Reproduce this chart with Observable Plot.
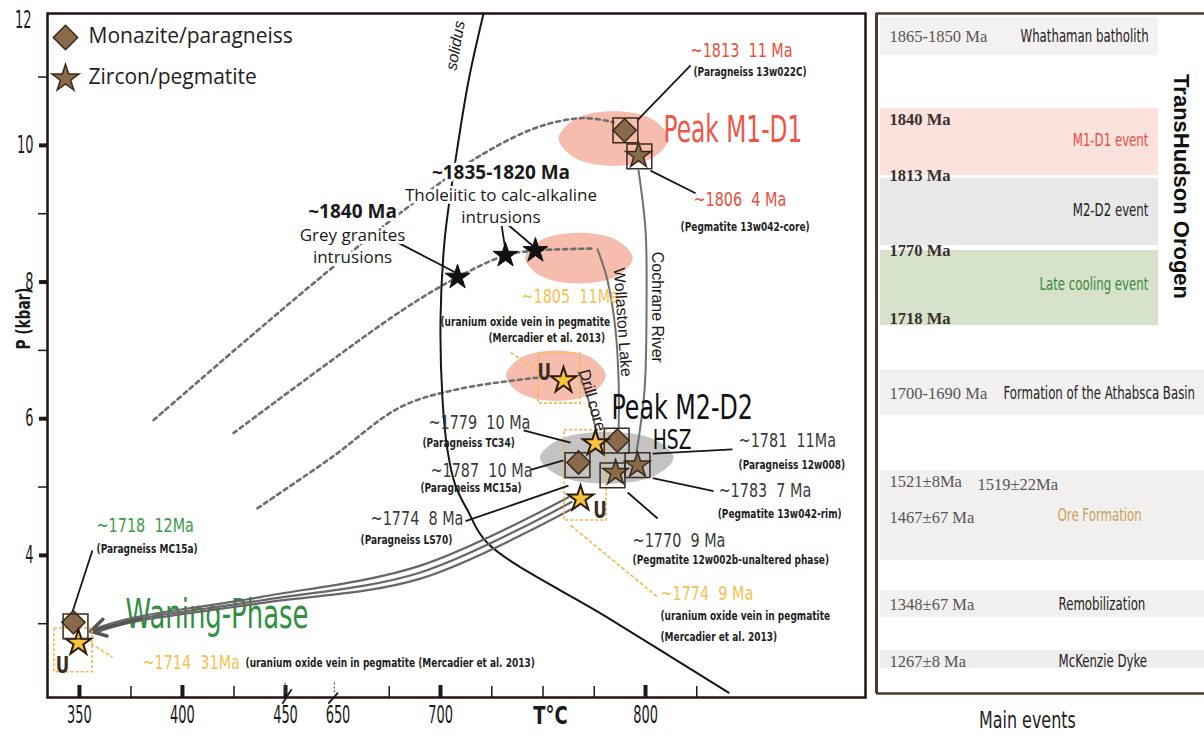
<!DOCTYPE html>
<html><head><meta charset="utf-8">
<script src="https://cdn.jsdelivr.net/npm/d3@7"></script>
<script src="https://cdn.jsdelivr.net/npm/@observablehq/plot@0.6"></script>
<style>
body{margin:0;background:#fff;}
#wrap{position:relative;width:1204px;height:738px;overflow:hidden;background:#fff;}
#wrap svg{position:absolute;top:0;}
</style></head><body><div id="wrap"></div>
<script>
const NARROW = "'DejaVu Sans Condensed','Liberation Sans Narrow',sans-serif";
const SANS = "'Open Sans','Noto Sans',sans-serif";
const ARIAL = "'Liberation Sans',Arial,sans-serif";
const SERIF = "'Liberation Serif','DejaVu Serif',serif";

// ---------------- data (T in °C, P in kbar) ----------------
const tickT = [350, 400, 450, 700, 800];
const labelT = [350, 400, 450, 650, 700, 800];
const minorT = [375, 425, 675, 725, 750, 775, 825];
const majorP = [4, 6, 8, 10];
const minorP = [3, 5, 7, 9, 11];

const solidus = [[721,11.93],[713.7,10.95],[707.3,9.78],[702,8.61],[700,7.44],[701,6.27],[703.4,5.54],[707.3,5.02],[713.2,4.66],[722.9,4.18],[781.5,3.09],[840.5,1.99]];
const pathM1 = [[386,5.98],[426.7,7.04],[593.7,8.10],[683.4,9.08],[721,9.88],[748.8,10.28],[769.8,10.40],[784.4,10.34]];
const pathIntrusions = [[424.8,5.79],[680.5,7.57],[708.3,8.07],[731.7,8.39],[746.3,8.46],[774.6,8.49]];
const pathU = [[436.4,4.69],[624.7,5.43],[680.5,6.17],[709.8,6.44],[747.3,6.60]];
const pathWollaston = [[776.6,8.48],[781.5,8.02],[785.4,7.29],[786.9,6.52],[786.9,5.86]];
const pathCochrane = [[796.6,9.63],[800,8.76],[800.5,7.73],[799.5,6.41],[795.6,5.51]];
const pathDrill = [[767.3,6.68],[772.2,6.27],[776.1,5.80]];
const waning1 = [[762.4,4.85],[690.2,3.85],[437.9,3.39],[374.8,3.08],[357.8,2.93]];
const waning2 = [[763.9,4.78],[690.2,3.75],[437.9,3.34],[374.8,3.05],[357.8,2.90]];
const waning3 = [[765.3,4.70],[690.2,3.66],[437.9,3.30],[374.8,3.02],[357.8,2.87]];
const waningHead = [[379.6,3.07,355.4,2.89]];

const monazite = [[789.8,10.22],[786.3,5.68],[767.3,5.36],[347.1,3.02]];
const zircon = [[796.6,9.85],[796.1,5.32],[785.4,5.21]];
const uraninite = [[760,6.56],[775.6,5.64],[768.3,4.83],[349.5,2.72]];
const intrusions = [[708.3,8.07],[731.7,8.39],[746.3,8.46]];
const boxes = [[790.2,10.22],[797,9.84],[785.9,5.68],[766.8,5.32],[796.1,5.32],[783.9,5.17],[348.1,2.96]];
const uBoxes = [[747.8,768.3,6.22,6.95],[760.5,781.0,4.51,5.83],[337.9,356.3,2.29,2.93]];

// zones: name, centre T, centre P, half-width T, half-height P
const zones = [
  ["M1-D1", 784.4, 10.10, 26.8, 0.40],
  ["intrusion", 767.5, 8.35, 26.2, 0.37],
  ["U", 756.3, 6.63, 24.3, 0.37],
  ["HSZ", 781.1, 5.43, 32.6, 0.38]
];

const leaders = [[822,11.17,796.1,10.37],[824.4,9.30,802.4,9.63],[679,8.58,707.3,8.14],[729.3,8.93,731.7,8.46],[729.3,8.93,745.4,8.52],
  [740.5,5.83,763.4,5.65],[743.9,5.25,760,5.39],[712.2,4.50,762.4,5.02],[842.4,5.55,803.5,5.49],[833.2,4.94,803.5,5.13],
  [805.9,4.54,791.3,4.92],[356.3,4.07,346.6,3.17]];
const uLeaders = [[734.1,6.97,748.8,6.68],[763.4,4.44,805.9,3.39],[355.4,2.71,366.1,2.51]];

const labels = [
  ["~1813  11 Ma", 822, 11.39, "ageRed"],
  ["(Paragneiss 13w022C)", 823.4, 11.07, "sample"],
  ["Peak M1-D1", 808.8, 10.22, "peakRed"],
  ["~1806  4 Ma", 823.4, 9.20, "ageRed"],
  ["(Pegmatite 13w042-core)", 817.1, 8.81, "sample"],
  ["~1805  11Ma", 739.5, 7.79, "ageOrange"],
  ["(uranium oxide vein in pegmatite", 700, 7.41, "sample"],
  ["(Mercadier et al. 2013)", 723.4, 7.18, "sample"],
  ["Peak M2-D2", 783.4, 6.15, "peakBlack"],
  ["HSZ", 803.5, 5.68, "hsz"],
  ["~1779  10 Ma", 694.1, 5.95, "ageGrey"],
  ["(Paragneiss TC34)", 691.2, 5.64, "sample"],
  ["~1787  10 Ma", 695.1, 5.24, "ageGrey"],
  ["(Paragneiss MC15a)", 690.2, 4.98, "sample"],
  ["~1774  8 Ma", 665.9, 4.54, "ageGrey"],
  ["(Paragneiss LS70)", 661, 4.22, "sample"],
  ["~1781  11Ma", 845.4, 5.68, "ageGrey"],
  ["(Paragneiss 12w008)", 845.4, 5.32, "sample"],
  ["~1783  7 Ma", 835.6, 4.95, "ageGrey"],
  ["(Pegmatite 13w042-rim)", 835.2, 4.61, "sample"],
  ["~1770  9 Ma", 793.7, 4.22, "ageGrey"],
  ["(Pegmatite 12w002b-unaltered phase)", 793.7, 3.93, "sample"],
  ["~1774  9 Ma", 807.3, 3.44, "ageOrange"],
  ["(uranium oxide vein in pegmatite", 807.3, 3.12, "sample"],
  ["(Mercadier et al. 2013)", 807.3, 2.81, "sample"],
  ["~1718  12Ma", 358.3, 4.44, "ageGreen"],
  ["(Paragneiss MC15a)", 358.3, 4.10, "sample"],
  ["~1714  31Ma", 380.6, 2.43, "ageOrange"],
  ["(uranium oxide vein in pegmatite (Mercadier et al. 2013)", 430.6, 2.43, "sample"],
  ["U", 747.3, 6.68, "U"],
  ["U", 774.5, 4.66, "U"],
  ["U", 338.5, 2.39, "U"]
];
const intrusionTitles = [["~1840 Ma", 657.1, 9.02], ["~1835-1820 Ma", 729.5, 9.60]];
const intrusionNotes = [["Grey granites", 657.1, 8.68], ["intrusions", 657.1, 8.36], ["Tholeiitic to calc-alkaline", 729.5, 9.27], ["intrusions", 729.5, 8.95]];
const waningText = [["Waning-Phase", 372.4, 3.12]];
const solidusName = [["solidus", 707.3, 11.46, -80]];
const pathNames = [["Wollaston Lake", 788.8, 7.41, 86], ["Cochrane River", 805.9, 7.63, 90], ["Drill core", 774.1, 6.27, 74]];
const legendNames = ["Monazite/paragneiss", "Zircon/pegmatite"];

// right panel: timeline of main events
const eventNames = ["Whathaman batholith", "M1-D1 event", "M2-D2 event", "Late cooling event", "Formation of the Athabsca Basin", "Ore Formation", "Remobilization", "McKenzie Dyke"];
const eventDates = [["1865-1850 Ma"], ["1840 Ma", "1813 Ma"], [], ["1770 Ma", "1718 Ma"], ["1700-1690 Ma"], ["1521±8Ma", "1519±22Ma", "1467±67 Ma"], ["1348±67 Ma"], ["1267±8 Ma"]];

// ---------------- helpers / styles ----------------
const xy = {x: d => d[0], y: d => d[1]};
const txy = {x: d => d[1], y: d => d[2], text: d => d[0]};
const seg = {x1: d => d[0], y1: d => d[1], x2: d => d[2], y2: d => d[3]};
function zonePts(z) {
  const pts = [];
  for (let k = 0; k < 8; k++) { const a = k * Math.PI / 4; pts.push([z[1] + z[3] * Math.cos(a), z[2] + z[4] * Math.sin(a)]); }
  return pts;
}
const zoneFill = {"M1-D1": "#f6bcae", "intrusion": "#f6bcae", "U": "#f6bcae", "HSZ": "#c3c3c3"};
const L = labels.map(([text, T, P, kind]) => ({text, T, P, kind}));
const kindStyle = {
  ageRed: {fill: "#e94f3f", fontSize: 20},
  ageOrange: {fill: "#f5c150", fontSize: 20},
  ageGrey: {fill: "#3a3a3a", fontSize: 20},
  ageGreen: {fill: "#3c9a4a", fontSize: 20},
  sample: {fill: "#1e1e1e", fontSize: 12.5, fontWeight: "bold"},
  peakRed: {fill: "#ee5646", fontSize: 37},
  peakBlack: {fill: "#111", fontSize: 33},
  hsz: {fill: "#111", fontSize: 26},
  U: {fill: "#3a2e22", fontSize: 23, fontWeight: "bold"}
};
const dashed = {stroke: "#6e6e6e", strokeWidth: 2.6, strokeDasharray: "4,4", curve: "catmull-rom"};
const greyPath = {stroke: "#707070", strokeWidth: 2, curve: "catmull-rom"};

const main = Plot.plot({
  width: 870, height: 738,
  marginLeft: 47, marginRight: 5, marginTop: 13, marginBottom: 41,
  style: {fontFamily: NARROW, fontSize: "18px", color: "#1a1a1a", background: "transparent", overflow: "visible"},
  x: {type: "linear", domain: [334.5, 450, 650, 907.3], range: [47, 285, 337.5, 865], axis: null},
  y: {domain: [1.92, 11.93]},
  marks: [
    ...zones.map(z => Plot.line(zonePts(z), {...xy, curve: "catmull-rom-closed", fill: zoneFill[z[0]], stroke: "none"})),
    Plot.line(pathM1, {...xy, ...dashed}),
    Plot.line(pathIntrusions, {...xy, ...dashed}),
    Plot.line(pathU, {...xy, ...dashed}),
    Plot.line(pathWollaston, {...xy, ...greyPath}),
    Plot.line(pathCochrane, {...xy, ...greyPath}),
    Plot.line(pathDrill, {...xy, ...greyPath}),
    Plot.line(solidus, {...xy, stroke: "#161616", strokeWidth: 2, curve: "catmull-rom"}),
    Plot.text(waningText, {...txy, textAnchor: "start", fill: "#2f9040", fontSize: 40, fontFamily: NARROW}),
    ...[waning1, waning2, waning3].map(w => Plot.line(w, {...xy, stroke: "#666", strokeWidth: 2.2, curve: "catmull-rom"})),
    Plot.arrow(waningHead, {...seg, stroke: "#555", strokeWidth: 3.5, headLength: 17}),
    Plot.rect(uBoxes, {x1: d => d[0], x2: d => d[1], y1: d => d[2], y2: d => d[3], fill: "none", stroke: "#f0b84a", strokeWidth: 1.6, strokeDasharray: "3,2"}),
    Plot.link(uLeaders, {...seg, stroke: "#f3c05a", strokeWidth: 1.8, strokeDasharray: "4,2"}),
    Plot.link(leaders, {...seg, stroke: "#161616", strokeWidth: 1.8}),
    Plot.dot(monazite, {...xy, symbol: "diamond2", r: 10.5, fill: "#8a6a4a", stroke: "#3a2a1c", strokeWidth: 1.5}),
    Plot.dot(zircon, {...xy, symbol: "star", r: 8, fill: "#8a6a4a", stroke: "#3a2a1c", strokeWidth: 1.5}),
    Plot.dot(uraninite, {...xy, symbol: "star", r: 8, fill: "#f8c43c", stroke: "#2a1a0a", strokeWidth: 2}),
    Plot.dot(intrusions, {...xy, symbol: "star", r: 7.8, fill: "#111", stroke: "#111", strokeWidth: 1}),
    Plot.dot(boxes, {...xy, symbol: "square", r: 14, fill: "none", stroke: "#3a2a22", strokeWidth: 1.5}),
    // labels
    ...Object.entries(kindStyle).map(([k, s]) => Plot.text(L.filter(d => d.kind === k), {x: "T", y: "P", text: "text", textAnchor: "start", fontFamily: NARROW, ...s})),
    Plot.text(intrusionTitles, {...txy, fontFamily: SANS, fontSize: 19, fontWeight: "bold", fill: "#1a1a1a", stroke: "white", strokeWidth: 6}),
    Plot.text(intrusionNotes, {...txy, fontFamily: SANS, fontSize: 17, fill: "#1a1a1a", stroke: "white", strokeWidth: 6}),
    Plot.text(solidusName, {...txy, rotate: d => d[3], fontFamily: ARIAL, fontSize: 16, fontStyle: "italic", fill: "#1a1a1a"}),
    Plot.text(pathNames, {...txy, rotate: d => d[3], fontFamily: ARIAL, fontSize: 16, fill: "#1a1a1a"}),
    // legend
    Plot.dot([0], {frameAnchor: "top-left", dx: 18, dy: 24, symbol: "diamond2", r: 11, fill: "#8a6a4a", stroke: "#3a2a1c", strokeWidth: 1.5}),
    Plot.dot([0], {frameAnchor: "top-left", dx: 18, dy: 65, symbol: "star", r: 8.5, fill: "#8a6a4a", stroke: "#3a2a1c", strokeWidth: 1.5}),
    Plot.text([legendNames[0]], {frameAnchor: "top-left", dx: 41, dy: 23, lineAnchor: "middle", text: d => d, textAnchor: "start", fontFamily: SANS, fontSize: 21, fill: "#222"}),
    Plot.text([legendNames[1]], {frameAnchor: "top-left", dx: 41, dy: 64, lineAnchor: "middle", text: d => d, textAnchor: "start", fontFamily: SANS, fontSize: 21, fill: "#222"}),
    // frame and axes
    Plot.frame({stroke: "#24140c", strokeWidth: 2.5}),
    Plot.axisY(majorP, {tickSize: 8, strokeWidth: 4, tickFormat: () => "", label: null}),
    Plot.axisY(minorP, {tickSize: 9, strokeWidth: 1.5, tickFormat: () => "", label: null}),
    Plot.text(majorP, {y: d => d, frameAnchor: "left", dx: -14, textAnchor: "end", lineAnchor: "middle", text: d => String(d), fontSize: 24, fontFamily: NARROW, fill: "#1a1a1a"}),
    Plot.text(labelT, {x: d => d, frameAnchor: "bottom", dy: 18, lineAnchor: "middle", text: d => String(d), fontSize: 24, fontFamily: NARROW, fill: "#1a1a1a"}),
    Plot.ruleX(tickT, {insetTop: 672, stroke: "#1a1a1a", strokeWidth: 4}),
    Plot.ruleX(minorT, {insetTop: 673, stroke: "#1a1a1a", strokeWidth: 1.5}),
    Plot.link([[448.5, 1.83, 473.3, 2.04], [613.1, 1.83, 650, 1.99]], {...seg, stroke: "#1a1a1a", strokeWidth: 1.8}),
    Plot.link([[449.8, 2.14, 449.8, 1.98], [636.4, 2.14, 636.4, 1.98]], {...seg, stroke: "#555", strokeWidth: 1.2, strokeDasharray: "2,2"}),
    Plot.text(["12"], {frameAnchor: "top-left", dx: -16, dy: 7, lineAnchor: "middle", textAnchor: "end", fontSize: 24, fontFamily: NARROW, fill: "#1a1a1a"}),
    Plot.text(["P (kbar)"], {frameAnchor: "left", dx: -24, dy: -6, rotate: -90, fontSize: 19, fontWeight: "bold", fontFamily: NARROW}),
    Plot.text(["T°C"], {frameAnchor: "bottom", dx: 94, dy: 26, fontSize: 25, fontWeight: "bold", fontFamily: NARROW})
  ]
});

// ---------------- right panel ----------------
const bandLayout = [
  {r1: 0.12, r2: 1.24, x2: 0.86, fill: "#f4f1f1"},
  {r1: 2.79, r2: 4.76, x2: 0.86, fill: "#fbe2dc"},
  {r1: 4.85, r2: 6.82, x2: 0.86, fill: "#e8e8e8"},
  {r1: 6.97, r2: 9.18, x2: 0.86, fill: "#d6e2c9"},
  {r1: 10.5, r2: 11.82, x2: 1, fill: "#f3f1ef"},
  {r1: 13.44, r2: 16.09, x2: 1, fill: "#f2f0ee"},
  {r1: 16.97, r2: 17.76, x2: 1, fill: "#f2f0ee"},
  {r1: 18.74, r2: 19.26, x2: 1, fill: "#f0eeec"}
];
const nameLayout = [
  {fx: 0.439, row: 0.69, anchor: "start", fill: "#222"},
  {fx: 0.829, row: 3.74, anchor: "end", fill: "#e8503f"},
  {fx: 0.829, row: 5.79, anchor: "end", fill: "#222"},
  {fx: 0.829, row: 7.97, anchor: "end", fill: "#3a8a3f"},
  {fx: 0.387, row: 11.18, anchor: "start", fill: "#222"},
  {fx: 0.552, row: 14.76, anchor: "start", fill: "#c9a05c"},
  {fx: 0.555, row: 17.38, anchor: "start", fill: "#222"},
  {fx: 0.555, row: 19.06, anchor: "start", fill: "#222"}
];
const dateLayout = [
  [{fx: 0.04, row: 0.69, bold: false}],
  [{fx: 0.04, row: 3.12, bold: true}, {fx: 0.04, row: 4.76, bold: true}],
  [],
  [{fx: 0.04, row: 6.97, bold: true}, {fx: 0.04, row: 8.97, bold: true}],
  [{fx: 0.04, row: 11.18, bold: false}],
  [{fx: 0.04, row: 13.76, bold: false}, {fx: 0.308, row: 13.85, bold: false}, {fx: 0.04, row: 14.82, bold: false}],
  [{fx: 0.04, row: 17.38, bold: false}],
  [{fx: 0.04, row: 19.06, bold: false}]
];
const bandsData = bandLayout.map((b, i) => ({...b, name: eventNames[i]}));
const namesData = nameLayout.map((n, i) => ({...n, text: eventNames[i]}));
const datesData = eventDates.flatMap((ds, i) => ds.map((t, j) => ({text: t, ...dateLayout[i][j]})));

const right = Plot.plot({
  width: 334, height: 738,
  marginLeft: 6, marginRight: 0, marginTop: 13, marginBottom: 45,
  style: {fontFamily: NARROW, background: "transparent", overflow: "visible"},
  x: {domain: [0, 1], axis: null},
  y: {domain: [0, 20], reverse: true, axis: null},
  color: {type: "identity"},
  marks: [
    Plot.rect(bandsData, {x1: 0.012, x2: "x2", y1: "r1", y2: "r2", fill: "fill"}),
    Plot.text(datesData.filter(d => d.bold), {x: "fx", y: "row", text: "text", textAnchor: "start", fontFamily: SERIF, fontSize: 16.5, fontWeight: "bold", fill: "#3a2f2f"}),
    Plot.text(datesData.filter(d => !d.bold), {x: "fx", y: "row", text: "text", textAnchor: "start", fontFamily: SERIF, fontSize: 16.5, fill: "#555"}),
    Plot.text(namesData.filter(d => d.anchor === "start"), {x: "fx", y: "row", text: "text", textAnchor: "start", fill: "fill", fontSize: 17, fontFamily: NARROW}),
    Plot.text(namesData.filter(d => d.anchor === "end"), {x: "fx", y: "row", text: "text", textAnchor: "end", fill: "fill", fontSize: 17, fontFamily: NARROW}),
    Plot.text(["TransHudson Orogen"], {x: 0.927, y: 5.09, rotate: 90, fontSize: 22, fontWeight: "bold", fontFamily: ARIAL, fill: "#111"}),
    Plot.text(["Main events"], {x: 0.46, y: 20.8, fontSize: 23, fontFamily: NARROW, fill: "#222"}),
    Plot.ruleX([0], {stroke: "#4a3a30", strokeWidth: 3}),
    Plot.ruleY([0, 20], {stroke: "#4a3a30", strokeWidth: 2.5})
  ]
});
right.style.left = "870px";
main.style.left = "0px";
document.getElementById("wrap").append(main, right);

// emulate the condensed typeface of the original: narrow the condensed-font labels
const condenseBySize = {24: 0.6, 40: 0.72, 37: 0.7};
function condense(svg, base) {
  svg.querySelectorAll("g").forEach(g => {
    const fam = g.getAttribute("font-family") || "";
    if (!fam.includes("DejaVu Sans Condensed")) return;
    const fs = +(g.getAttribute("font-size") || 18);
    const factor = condenseBySize[fs] || base;
    g.querySelectorAll(":scope > text").forEach(t => {
      const w = t.getComputedTextLength();
      if (w > 0) { t.setAttribute("textLength", (w * factor).toFixed(1)); t.setAttribute("lengthAdjust", "spacingAndGlyphs"); }
    });
  });
}
condense(main, 0.8);
condense(right, 0.77);
</script>
</body></html>
